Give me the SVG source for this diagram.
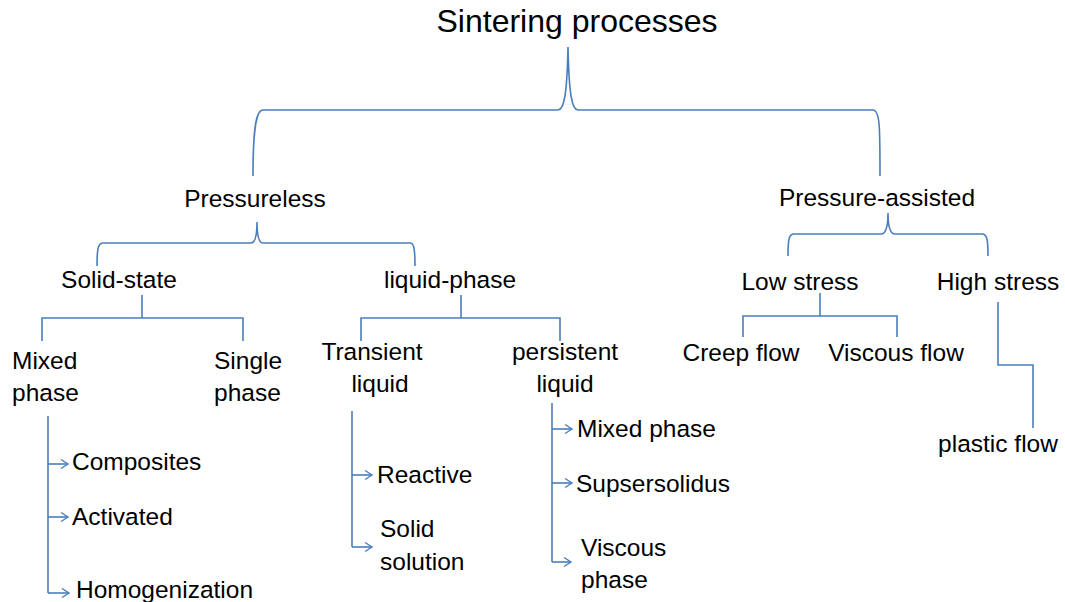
<svg xmlns="http://www.w3.org/2000/svg" width="1065" height="602" viewBox="0 0 1065 602">
<style>
text{font-family:"Liberation Sans",Arial,sans-serif;font-size:24.5px;fill:#000}
.title{font-size:32px}
.c{text-anchor:middle}
.ln{fill:none;stroke:#4a7ebb;stroke-width:1.6}
.ar{fill:none;stroke:#4a7ebb;stroke-width:1.6;marker-end:url(#arr)}
</style>
<defs>
<marker id="arr" markerUnits="userSpaceOnUse" markerWidth="12" markerHeight="12" refX="8" refY="6" orient="auto">
<path d="M1,1.5 L8,6 L1,10.5" fill="none" stroke="#4a7ebb" stroke-width="1.4"/>
</marker>
</defs>
<rect width="1065" height="602" fill="#fff"/>
<g id="connectors">
<path class="ln" d="M253,176 C253,128 256,110 263,110 L558,110 C564,110 567,95 568,47 C569,95 572,110 578,110 L873,110 C880,110 880,128 880,176"/>
<path class="ln" d="M97,266 C97,249 98,243 103,243 L251,243 C255,243 257,236 257,222 C257,236 259,243 263,243 L410,243 C414,243 415,249 415,266"/>
<path class="ln" d="M788,256 C788,239 789,234 794,234 L881,234 C886,234 888,227 888,213 C888,227 890,234 895,234 L982,234 C987,234 988,239 988,256"/>
<path class="ln" d="M142,295 V318 M42,341 V318 H243 V341"/>
<path class="ln" d="M461,295 V318 M361,341 V318 H560 V341"/>
<path class="ln" d="M820,293 V316 M743,337 V316 H897 V337"/>
<path class="ln" d="M998,302 V365 H1033 V428"/>
<path class="ln" d="M48,416 V593"/>
<path class="ar" d="M48,464 H68"/>
<path class="ar" d="M48,517 H68"/>
<path class="ar" d="M48,593 H69"/>
<path class="ln" d="M352,411 V547"/>
<path class="ar" d="M352,475 H372"/>
<path class="ar" d="M352,547 H372"/>
<path class="ln" d="M552,403 V562"/>
<path class="ar" d="M552,429 H572"/>
<path class="ar" d="M552,483 H572"/>
<path class="ar" d="M552,562 H571"/>
</g>
<g id="n-title"><text class="title c" x="577" y="32">Sintering processes</text></g>
<g id="n-pressureless"><text class="c" x="255" y="207">Pressureless</text></g>
<g id="n-pressure-assisted"><text class="c" x="877" y="206">Pressure-assisted</text></g>
<g id="n-solid-state"><text class="c" x="119" y="288">Solid-state</text></g>
<g id="n-liquid-phase"><text class="c" x="450" y="288">liquid-phase</text></g>
<g id="n-low-stress"><text class="c" x="800" y="290">Low stress</text></g>
<g id="n-high-stress"><text class="c" x="998" y="290">High stress</text></g>
<g id="n-mixed-phase"><text x="12" y="369">Mixed</text><text x="12" y="401">phase</text></g>
<g id="n-single-phase"><text x="214" y="369">Single</text><text x="214" y="401">phase</text></g>
<g id="n-transient"><text class="c" x="372" y="360">Transient</text><text class="c" x="380" y="392">liquid</text></g>
<g id="n-persistent"><text class="c" x="565" y="360">persistent</text><text class="c" x="565" y="392">liquid</text></g>
<g id="n-creep"><text class="c" x="741" y="361">Creep flow</text></g>
<g id="n-viscous-flow"><text class="c" x="896" y="361">Viscous flow</text></g>
<g id="n-plastic"><text class="c" x="998" y="452">plastic flow</text></g>
<g id="n-composites"><text x="72" y="470">Composites</text></g>
<g id="n-activated"><text x="72" y="525">Activated</text></g>
<g id="n-homogenization"><text x="76" y="598">Homogenization</text></g>
<g id="n-reactive"><text x="377" y="483">Reactive</text></g>
<g id="n-solid-solution"><text x="380" y="537">Solid</text><text x="380" y="570">solution</text></g>
<g id="n-mixed-phase-2"><text x="577" y="437">Mixed phase</text></g>
<g id="n-supsersolidus"><text x="576" y="492">Supsersolidus</text></g>
<g id="n-viscous-phase"><text x="581" y="556">Viscous</text><text x="581" y="588">phase</text></g>
</svg>
